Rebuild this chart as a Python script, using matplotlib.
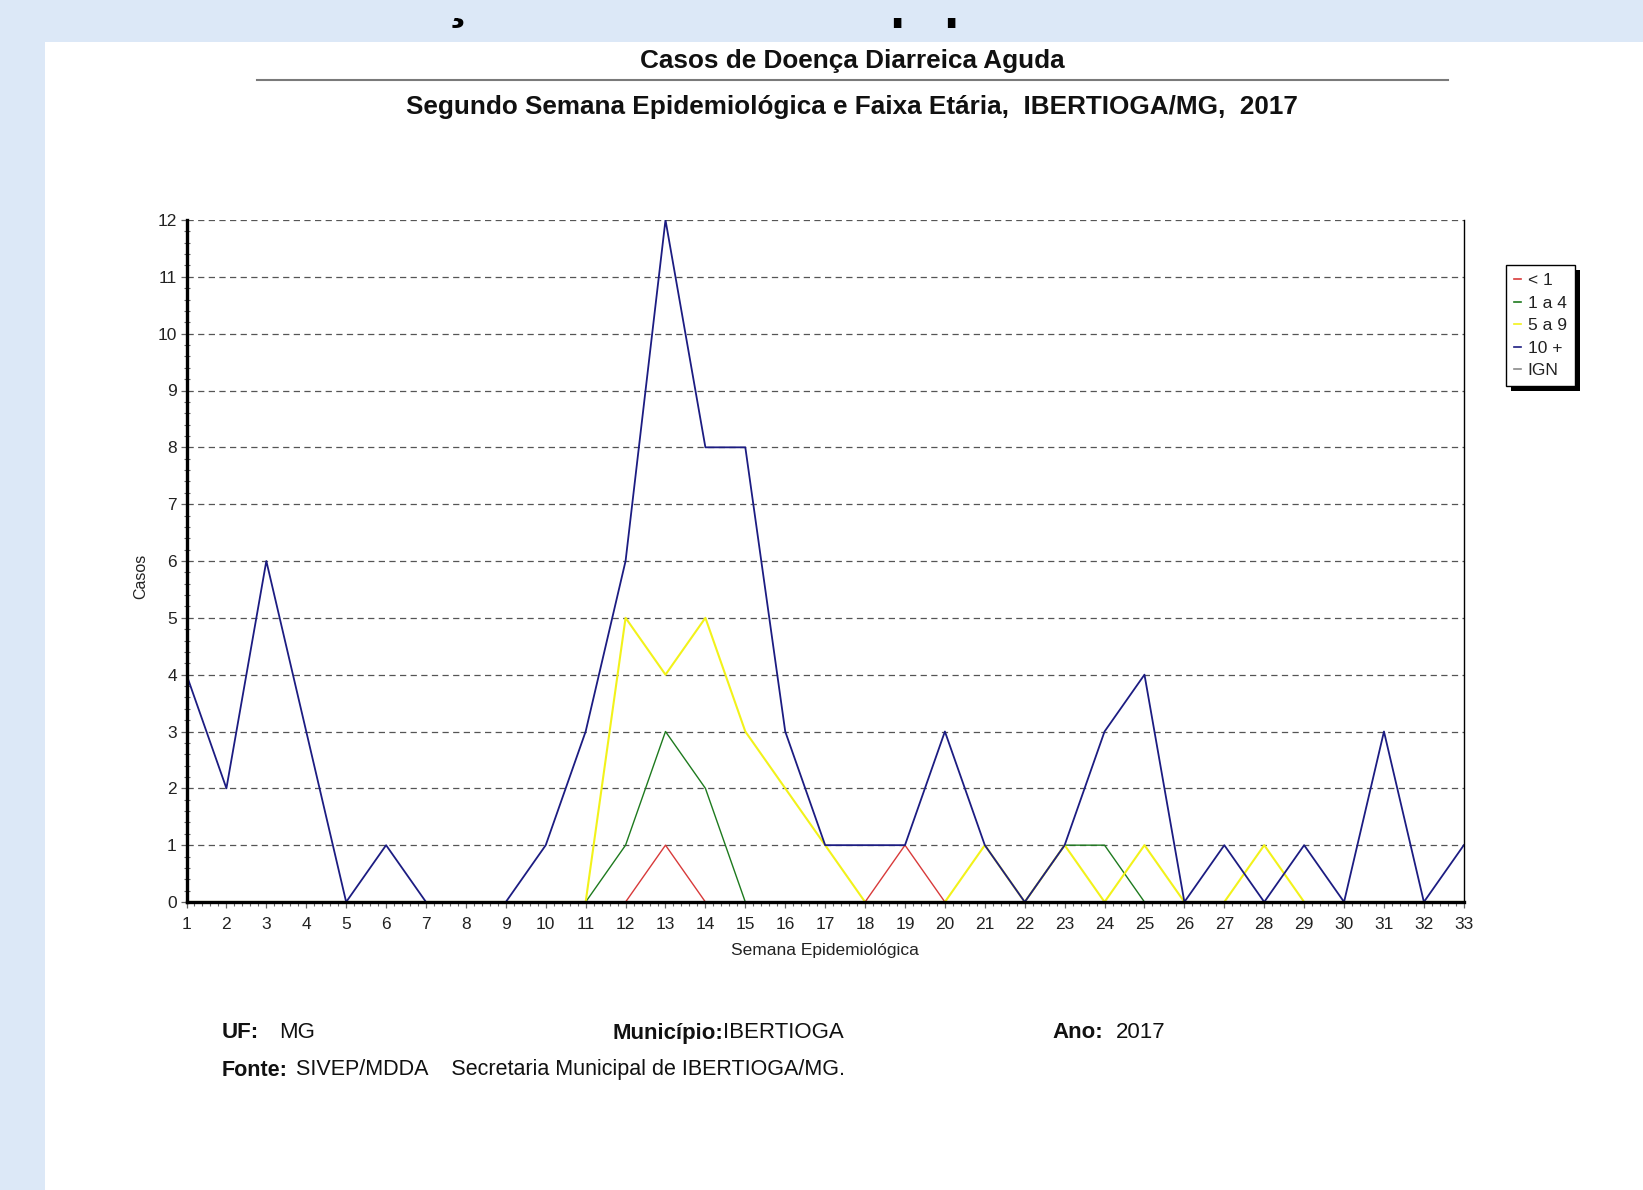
import matplotlib
matplotlib.use("Agg")
import matplotlib.pyplot as plt
from matplotlib.patches import Rectangle
from matplotlib.lines import Line2D
from matplotlib.ticker import MultipleLocator

plt.rcParams['font.family'] = ['Liberation Sans', 'DejaVu Sans']

# ---------------------------------------------------------------------
#  DATA (casos por semana epidemiológica e faixa etária)
# ---------------------------------------------------------------------
semanas = list(range(1, 34))
menor_1 = [0, 0, 0, 0, 0, 0, 0, 0, 0, 0, 0, 0, 1, 0, 0, 0, 0, 0, 1, 0, 0,
           0, 0, 0, 0, 0, 0, 0, 0, 0, 0, 0, 0]
de_1_a_4 = [0, 0, 0, 0, 0, 0, 0, 0, 0, 0, 0, 1, 3, 2, 0, 0, 0, 0, 0, 0, 0,
            0, 1, 1, 0, 0, 0, 0, 0, 0, 0, 0, 0]
de_5_a_9 = [0, 0, 0, 0, 0, 0, 0, 0, 0, 0, 0, 5, 4, 5, 3, 2, 1, 0, 0, 0, 1,
            0, 1, 0, 1, 0, 0, 1, 0, 0, 0, 0, 0]
mais_10 = [4, 2, 6, 3, 0, 1, 0, 0, 0, 1, 3, 6, 12, 8, 8, 3, 1, 1, 1, 3, 1,
           0, 1, 3, 4, 0, 1, 0, 1, 0, 3, 0, 1]
ign = [0] * 33

faixas = ["< 1", "1 a 4", "5 a 9", "10 +", "IGN"]
series = [menor_1, de_1_a_4, de_5_a_9, mais_10, ign]
cores = ["#d83a3a", "#1e7a1e", "#f2f21a", "#1c1c82", "#8a8a8a"]
larguras = [1.0, 1.0, 1.5, 1.3, 1.0]

W, H = 1643, 1190


def fx(x):
    return x / W


def fy(y):
    return 1 - y / H


fig = plt.figure(figsize=(W / 100, H / 100), dpi=100, facecolor="white")
renderer = fig.canvas.get_renderer()

# page background strips
bg = "#dce8f7"
fig.add_artist(Rectangle((0, 0), fx(45), 1, transform=fig.transFigure,
                         facecolor=bg, edgecolor="none", zorder=0))
fig.add_artist(Rectangle((0, fy(42)), 1, 42 / H, transform=fig.transFigure,
                         facecolor=bg, edgecolor="none", zorder=0))

# cut-off heading above the page (only descenders visible)
cut = fig.add_axes([0, fy(42), 1, (42 - 18) / H])
cut.set_axis_off()
cut.patch.set_alpha(0)
cut.set_xlim(0, W)
cut.set_ylim(42, 18)
for ch, xpos in [("ç", 457), ("p", 906), ("p", 960)]:
    cut.text(xpos, 16, ch, fontsize=40, fontweight="bold", color="black",
             ha="center", va="baseline", clip_on=True)

# titles
fig.text(fx(852), fy(61), "Casos de Doença Diarreica Aguda", fontsize=18.8,
         fontweight="bold", ha="center", va="center", color="#111111")
fig.add_artist(Line2D([fx(257), fx(1448)], [fy(80), fy(80)],
                      transform=fig.transFigure, color="#7a7a7a", lw=1.5))
fig.text(fx(852), fy(107),
         "Segundo Semana Epidemiológica e Faixa Etária,  IBERTIOGA/MG,  2017",
         fontsize=18.8, fontweight="bold", ha="center", va="center",
         color="#111111")

# main chart
ax = fig.add_axes([fx(186.5), fy(902), fx(1463.8) - fx(186.5),
                   fy(220) - fy(902)])
for vals, cor, lw in zip(series, cores, larguras):
    ax.plot(semanas, vals, color=cor, lw=lw, zorder=2)

ax.set_xlim(1, 33)
ax.set_ylim(0, 12)
ax.xaxis.set_major_locator(MultipleLocator(1))
ax.xaxis.set_minor_locator(MultipleLocator(0.2))
ax.yaxis.set_major_locator(MultipleLocator(1))
ax.yaxis.set_minor_locator(MultipleLocator(0.2))

ax.grid(axis="y", which="major", color="#555555", lw=0.9,
        linestyle=(0, (5, 3.5)))
ax.set_axisbelow(True)

ax.spines["top"].set_visible(False)
ax.spines["left"].set_linewidth(2.4)
ax.spines["bottom"].set_linewidth(2.4)
ax.spines["right"].set_linewidth(1.0)
for s in ax.spines.values():
    s.set_color("black")
    s.set_zorder(3)

ax.tick_params(axis="both", which="major", length=4, width=0.9,
               color="#666666", labelsize=12.5, labelcolor="#222222")
ax.tick_params(axis="x", which="major", pad=7)
ax.tick_params(axis="y", which="major", pad=3)
ax.tick_params(axis="x", which="minor", length=3, width=0.8,
               color="#666666", direction="out")
ax.tick_params(axis="y", which="minor", length=4, width=0.8,
               color="#666666", direction="inout")

ax.set_xlabel("Semana Epidemiológica", fontsize=12.5, color="#222222",
              labelpad=8)
ax.set_ylabel("Casos", fontsize=11.5, color="#222222")
ax.yaxis.set_label_coords(-0.030, 0.478)

# legend with hard shadow
handles = [Line2D([], [], color=c, lw=1.2) for c in cores]
leg = fig.legend(handles, faixas, loc="upper left",
                 bbox_to_anchor=(fx(1506), fy(265)), frameon=True,
                 fancybox=False, edgecolor="black", framealpha=1,
                 fontsize=12.5, handlelength=0.4, handletextpad=0.4,
                 borderpad=0.45, labelspacing=0.43, borderaxespad=0)
leg.get_frame().set_linewidth(1.0)
for t in leg.get_texts():
    t.set_color("#222222")
fig.canvas.draw()
bb = leg.get_window_extent().transformed(fig.transFigure.inverted())
fig.add_artist(Rectangle((bb.x0 + fx(5), bb.y0 - 5 / H), bb.width, bb.height,
                         transform=fig.transFigure, facecolor="black",
                         edgecolor="none", zorder=4))


# footer: bold label followed by plain value
def rotulo(x, y, label, valor, fs, gap=0, x_valor=None):
    t = fig.text(fx(x), fy(y), label, fontsize=fs, fontweight="bold",
                 va="center", color="#111111")
    if x_valor is None:
        ext = t.get_window_extent(renderer)
        x_valor = ext.x1 + gap
    fig.text(fx(x_valor), fy(y), valor, fontsize=fs, va="center",
             color="#111111")


rotulo(222, 1033, "UF:", "MG", 16, x_valor=279)
rotulo(612, 1033, "Município:", "IBERTIOGA", 16)
rotulo(1052, 1033, "Ano:", "2017", 16, x_valor=1116)
rotulo(222, 1070, "Fonte:",
       "SIVEP/MDDA    Secretaria Municipal de IBERTIOGA/MG.", 15.5, gap=8)

fig.savefig("out.png", dpi=100)
